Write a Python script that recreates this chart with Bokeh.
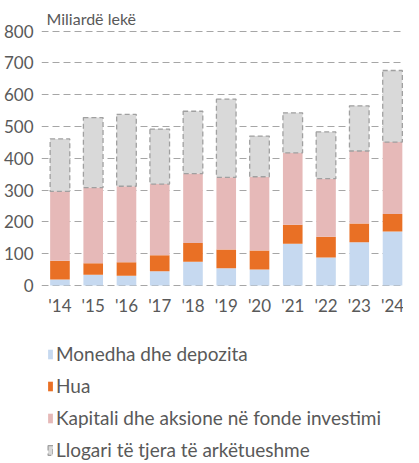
from bokeh.plotting import figure
from bokeh.models import Range1d, FixedTicker, Legend, LegendItem, ColumnDataSource
from bokeh.core.properties import value
from bokeh.embed import file_html
from bokeh.resources import INLINE

years = ["'14", "'15", "'16", "'17", "'18", "'19", "'20", "'21", "'22", "'23", "'24"]
monedha = [19, 34, 31, 45, 75, 54, 50, 131, 88, 136, 170]
hua = [59, 36, 42, 50, 59, 59, 60, 60, 65, 59, 55]
kapitali = [218, 238, 239, 224, 218, 227, 232, 226, 183, 228, 226]
llogari = [165, 220, 226, 173, 196, 246, 128, 126, 147, 142, 225]
y_ticks = [0, 100, 200, 300, 400, 500, 600, 700, 800]

series_names = ["Monedha dhe depozita", "Hua", "Kapitali dhe aksione në fonde investimi",
                "Llogari të tjera të arkëtueshme"]
colors = ["#c6d9f0", "#e97025", "#e6b9b8", "#d9d9d9"]

FONT = "Lato"
TXT = "#595959"

H = 461
TOP = 29
PX_PER_UNIT = 0.318
frame_h = H - TOP
y_end = 805
y_start = y_end - frame_h / PX_PER_UNIT
label_y = -20 / PX_PER_UNIT

xs = list(range(len(years)))
src = ColumnDataSource(dict(x=xs, monedha=monedha, hua=hua, kapitali=kapitali,
                            llogari=llogari, lab=years, ly=[label_y] * len(years)))

p = figure(width=403, height=H, output_backend="svg", toolbar_location=None,
           x_range=Range1d(-0.555, 10.33), y_range=Range1d(y_start, y_end),
           x_axis_location=None,
           min_border_left=36, min_border_right=0, min_border_top=TOP, min_border_bottom=0)
p.outline_line_color = None
p.background_fill_color = "white"

p.title.text = "Miliardë lekë"
p.title.align = "left"
p.title.text_font = FONT
p.title.text_font_style = "normal"
p.title.text_font_size = "16px"
p.title.text_color = TXT
p.title.standoff = 3
p.title.offset = 5

rs = p.vbar_stack(["monedha", "hua", "kapitali", "llogari"], x="x", width=0.59,
                  color=colors, source=src, line_width=0)
for r in rs[:3]:
    r.glyph.line_color = None
g = rs[3].glyph
g.line_color = "#a0a0a0"
g.line_width = 1.3
g.line_dash = "5 3"
g.line_alpha = 1.0

p.text(x="x", y="ly", text="lab", source=src, text_align="center", text_baseline="middle",
       text_font=value(FONT), text_font_size="17px", text_color=TXT)

p.yaxis.ticker = FixedTicker(ticks=y_ticks)
ax = p.yaxis[0]
ax.axis_line_color = None
ax.major_tick_line_color = None
ax.minor_tick_line_color = None
ax.major_label_text_font = FONT
ax.major_label_text_font_size = "17px"
ax.major_label_text_color = TXT
ax.major_label_standoff = 2

p.xgrid.grid_line_color = None
p.ygrid.grid_line_color = "#a6a6a6"
p.ygrid.grid_line_dash = "7 4"
p.ygrid.grid_line_width = 1

items = [LegendItem(label=n, renderers=[r]) for n, r in zip(series_names, rs)]
legend = Legend(items=items, location=(6, 0), orientation="vertical",
                border_line_color=None, background_fill_alpha=0, padding=0, margin=0,
                spacing=9, glyph_width=6, glyph_height=12, label_standoff=3,
                label_height=20, label_text_font=FONT, label_text_font_size="19px",
                label_text_color=TXT)
p.add_layout(legend, "center")

open("out.html", "w").write(file_html(p, INLINE))
